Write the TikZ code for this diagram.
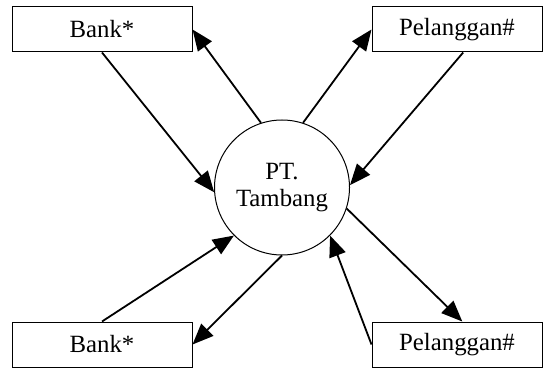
\documentclass[tikz,border=0pt]{standalone}
\usepackage{fontspec}
\setmainfont{Liberation Serif}
\usetikzlibrary{arrows.meta, shapes.geometric, positioning}
\tikzset{
    entity/.style={rectangle, draw=black, line width=0.5pt, minimum height=22.5pt, inner sep=0pt, font=\fontsize{12.4}{13.5}\selectfont},
    procs/.style={circle, draw=black, line width=0.5pt, minimum size=67.5pt, inner sep=0pt, align=center, font=\fontsize{12.4}{13.5}\selectfont},
    flow/.style={-{Triangle[length=10.5pt, width=8.5pt]}, line width=0.9pt}
}
\begin{document}
\begin{tikzpicture}[x=0.5pt, y=-0.5pt]
  \useasboundingbox (0,0) rectangle (544,368);
  \node[procs] (tambang) at (282,187.5) {PT.\\Tambang};
  \node[entity, minimum width=90pt] (bankA) at (102,29.5) {Bank*};
  \node[entity, minimum width=85pt] (plgA) at (457,29.5) {Pelanggan\#};
  \node[entity, minimum width=90pt] (bankB) at (102,344.5) {Bank*};
  \node[entity, minimum width=85pt] (plgB) at (457,344.5) {Pelanggan\#};
  % atas
  \draw[flow] (bankA.south) -- (tambang.184);
  \draw[flow] (tambang.108) -- (bankA.east);
  \draw[flow] (tambang.72) -- (plgA.west);
  \draw[flow] (plgA.-75) -- (tambang.2);
  % bawah
  \draw[flow] (bankB.north) -- (tambang.225);
  \draw[flow] (tambang.270) -- (bankB.east);
  \draw[flow] (tambang.-18) -- (plgB.77);
  \draw[flow] (plgB.west) -- (tambang.-45);
\end{tikzpicture}
\end{document}
